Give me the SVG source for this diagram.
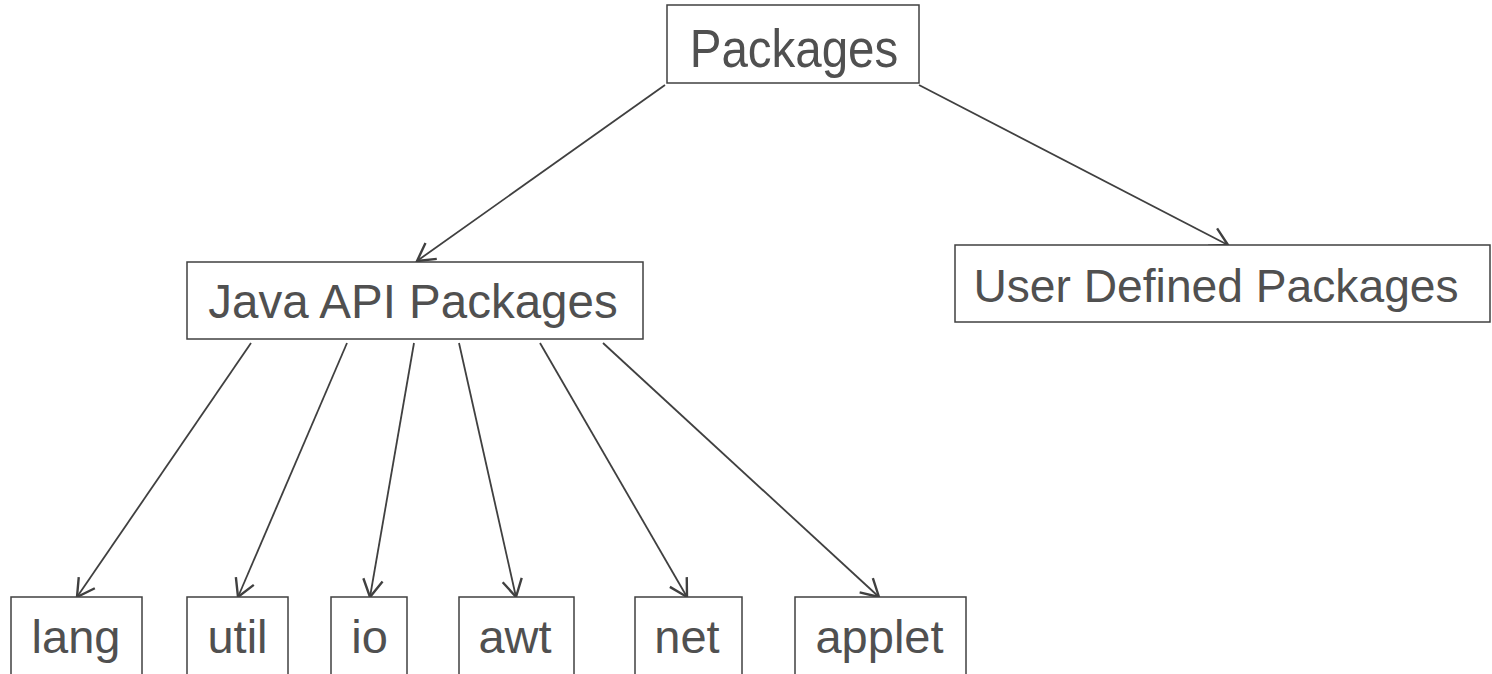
<svg xmlns="http://www.w3.org/2000/svg" width="1492" height="674" viewBox="0 0 1492 674">
<style>
.box{fill:#fff;stroke:#404040;stroke-width:1.5}
.lbl{font-family:"Liberation Sans",Arial,sans-serif;font-size:47px;fill:#505050;text-anchor:middle}
.edge{fill:none;stroke:#404040;stroke-width:1.8;marker-end:url(#arr)}
</style>
<defs>
<marker id="arr" markerUnits="userSpaceOnUse" markerWidth="26" markerHeight="26" viewBox="-20 -12 22 24" refX="0" refY="0" orient="auto">
<path d="M-16,-9 L0,0 L-16,9" fill="none" stroke="#404040" stroke-width="2.2"/>
</marker>
</defs>
<rect width="1492" height="674" fill="#fff"/>
<g id="connectors">
<line class="edge" x1="665" y1="85" x2="417" y2="261"/>
<line class="edge" x1="919" y1="85" x2="1228" y2="245"/>
<line class="edge" x1="251" y1="343" x2="77" y2="597"/>
<line class="edge" x1="347" y1="343" x2="238" y2="597"/>
<line class="edge" x1="414" y1="343" x2="370" y2="597"/>
<line class="edge" x1="459" y1="343" x2="516" y2="597"/>
<line class="edge" x1="540" y1="343" x2="687" y2="597"/>
<line class="edge" x1="603" y1="343" x2="879" y2="597"/>
</g>
<g id="packages"><rect class="box" x="667" y="5" width="252" height="78"/><text class="lbl" transform="translate(794,66.7) scale(1,1.13)" style="font-size:47.5px">Packages</text></g>
<g id="java-api"><rect class="box" x="187" y="262" width="456" height="77"/><text class="lbl" x="413" y="318.3" style="font-size:47.5px">Java API Packages</text></g>
<g id="user-defined"><rect class="box" x="955" y="245" width="535" height="77"/><text class="lbl" x="1216" y="301.7" style="font-size:46.2px">User Defined Packages</text></g>
<g id="lang"><rect class="box" x="11" y="597" width="131" height="90"/><text class="lbl" x="76" y="653.3">lang</text></g>
<g id="util"><rect class="box" x="187" y="597" width="101" height="90"/><text class="lbl" x="237.5" y="653.3">util</text></g>
<g id="io"><rect class="box" x="331" y="597" width="76" height="90"/><text class="lbl" x="369.5" y="653.3">io</text></g>
<g id="awt"><rect class="box" x="459" y="597" width="115" height="90"/><text class="lbl" x="515" y="653.3">awt</text></g>
<g id="net"><rect class="box" x="635" y="597" width="107" height="90"/><text class="lbl" x="687" y="653.3">net</text></g>
<g id="applet"><rect class="box" x="795" y="597" width="171" height="90"/><text class="lbl" x="879.5" y="653.3">applet</text></g>
</svg>
